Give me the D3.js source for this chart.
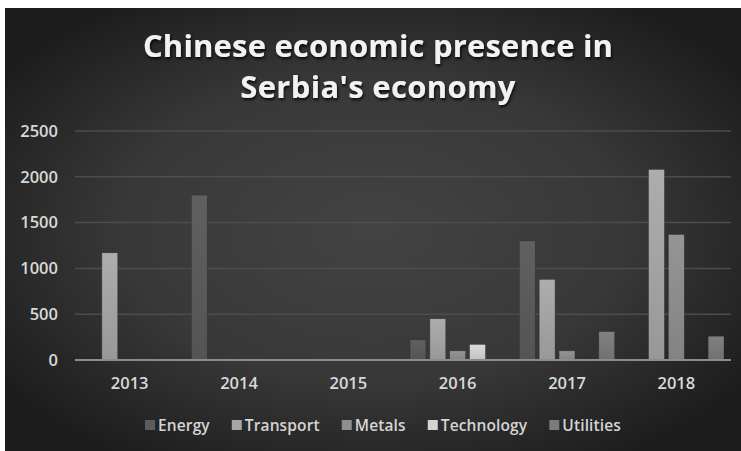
<!DOCTYPE html>
<html>
<head>
<meta charset="utf-8">
<script src="https://cdn.jsdelivr.net/npm/d3@7"></script>
<style>
  html, body { margin: 0; padding: 0; background: #ffffff; }
  svg { display: block; }
  text { font-family: "Open Sans", sans-serif; }
</style>
</head>
<body>
<svg id="chart" width="741" height="451"></svg>
<script>
// data
const years = ["2013", "2014", "2015", "2016", "2017", "2018"];
const sectors = ["Energy", "Transport", "Metals", "Technology", "Utilities"];
const energy     = [0, 1800, 0, 220, 1300, 0];
const transport  = [1170, 0, 0, 450, 880, 2080];
const metals     = [0, 0, 0, 100, 100, 1370];
const technology = [0, 0, 0, 170, 0, 0];
const utilities  = [0, 0, 0, 0, 310, 260];
const yTicks = [0, 500, 1000, 1500, 2000, 2500];
const titleLines = ["Chinese economic presence in", "Serbia's economy"];

const seriesValues = [energy, transport, metals, technology, utilities];
const colors = ["#5c5c5c", "#a6a6a6", "#8f8f8f", "#d3d3d3", "#7b7b7b"];

const W = 741, H = 451;
const svg = d3.select("#chart");
const defs = svg.append("defs");

// background (white strip top and left, dark radial fill)
svg.append("rect").attr("width", W).attr("height", H).attr("fill", "#ffffff");
const bg = defs.append("radialGradient").attr("id", "bg")
  .attr("cx", "0.5").attr("cy", "0.5").attr("r", "0.62");
bg.append("stop").attr("offset", "0%").attr("stop-color", "#434343");
bg.append("stop").attr("offset", "55%").attr("stop-color", "#383838");
bg.append("stop").attr("offset", "100%").attr("stop-color", "#1c1c1c");
svg.append("rect").attr("x", 5).attr("y", 8).attr("width", W - 5).attr("height", H - 8)
  .attr("fill", "url(#bg)");

const shadow = defs.append("filter").attr("id", "shadow")
  .attr("x", "-10%").attr("y", "-30%").attr("width", "120%").attr("height", "160%");
shadow.append("feDropShadow").attr("dx", 1).attr("dy", 2).attr("stdDeviation", 1.6)
  .attr("flood-color", "#000").attr("flood-opacity", 0.85);

colors.forEach((c, i) => {
  const g = defs.append("linearGradient").attr("id", "bar" + i)
    .attr("x1", 0).attr("y1", 0).attr("x2", 0).attr("y2", 1);
  g.append("stop").attr("offset", "0%").attr("stop-color", d3.color(c).brighter(0.12));
  g.append("stop").attr("offset", "100%").attr("stop-color", d3.color(c).darker(0.25));
});

// title
const titleWidths = [470, 275];
svg.append("g").selectAll("text").data(titleLines).join("text")
  .attr("x", 378)
  .attr("y", (d, i) => 57 + i * 41)
  .attr("text-anchor", "middle")
  .attr("font-size", 31)
  .attr("font-weight", "bold")
  .attr("fill", "#f2f2f2")
  .attr("filter", "url(#shadow)")
  .text(d => d)
  .each(function(d, i) {
    const w = this.getComputedTextLength();
    const ls = (titleWidths[i] - w) / (d.length - 1);
    d3.select(this).attr("letter-spacing", ls);
  });

// scales
const x0 = d3.scaleBand().domain(years).range([75, 731]);
const x1 = d3.scaleBand().domain(sectors).range([7, x0.bandwidth() - 7]).paddingInner(0.2);
const y = d3.scaleLinear().domain([0, 2500]).range([360, 131]);

// gridlines
svg.append("g").selectAll("line").data(yTicks.filter(t => t > 0)).join("line")
  .attr("x1", 75).attr("x2", 731)
  .attr("y1", d => y(d)).attr("y2", d => y(d))
  .attr("stroke", "#4d4d4d").attr("stroke-width", 1.5);

// y axis labels
const yAxis = svg.append("g").attr("transform", "translate(58,0)")
  .call(d3.axisLeft(y).tickValues(yTicks).tickFormat(d3.format("d")).tickSize(0).tickPadding(0));
yAxis.select(".domain").remove();
yAxis.selectAll("text").attr("font-size", 16.5).attr("font-weight", 600).attr("fill", "#d9d9d9")
  .attr("font-family", "Open Sans, sans-serif");

// bars
const groups = svg.append("g").selectAll("g").data(years).join("g")
  .attr("transform", d => `translate(${x0(d)},0)`);
groups.selectAll("rect")
  .data((d, yi) => sectors.map((s, si) => ({ s, si, v: seriesValues[si][yi] })).filter(e => e.v > 0))
  .join("rect")
  .attr("x", d => x1(d.s))
  .attr("width", x1.bandwidth())
  .attr("y", d => y(d.v))
  .attr("height", d => y(0) - y(d.v))
  .attr("fill", d => `url(#bar${d.si})`)
  .attr("stroke", "#2a2a2a").attr("stroke-opacity", 0.6).attr("stroke-width", 0.6);

// x axis
const xAxis = svg.append("g").attr("transform", `translate(0,${y(0)})`)
  .call(d3.axisBottom(x0).tickSize(0).tickPadding(17));
xAxis.select(".domain").attr("stroke", "#8c8c8c").attr("stroke-width", 2)
  .attr("d", "M75,0H731");
xAxis.selectAll("text").attr("font-size", 16.5).attr("font-weight", 600).attr("fill", "#d9d9d9")
  .attr("font-family", "Open Sans, sans-serif");

// legend
const legend = svg.append("g");
const legendWidth = 476;
const texts = [];
sectors.forEach((s, i) => {
  const it = legend.append("g");
  it.append("rect").attr("x", 0).attr("y", -11).attr("width", 10).attr("height", 10)
    .attr("fill", colors[i]);
  const t = it.append("text").attr("x", 13).attr("y", 0).attr("font-size", 15.5)
    .attr("font-weight", 600).attr("fill", "#d4d4d4").text(s);
  texts.push({ it, t });
});
const natural = d3.sum(texts, d => 13 + d.t.node().getComputedTextLength()) + 22 * (sectors.length - 1);
const nChars = d3.sum(sectors, s => s.length);
const ls = (legendWidth - natural) / nChars;
let lx = 145;
texts.forEach(d => {
  d.t.attr("letter-spacing", ls);
  d.it.attr("transform", `translate(${lx},431)`);
  lx += 13 + d.t.node().getComputedTextLength() + 22;
});
</script>
</body>
</html>
